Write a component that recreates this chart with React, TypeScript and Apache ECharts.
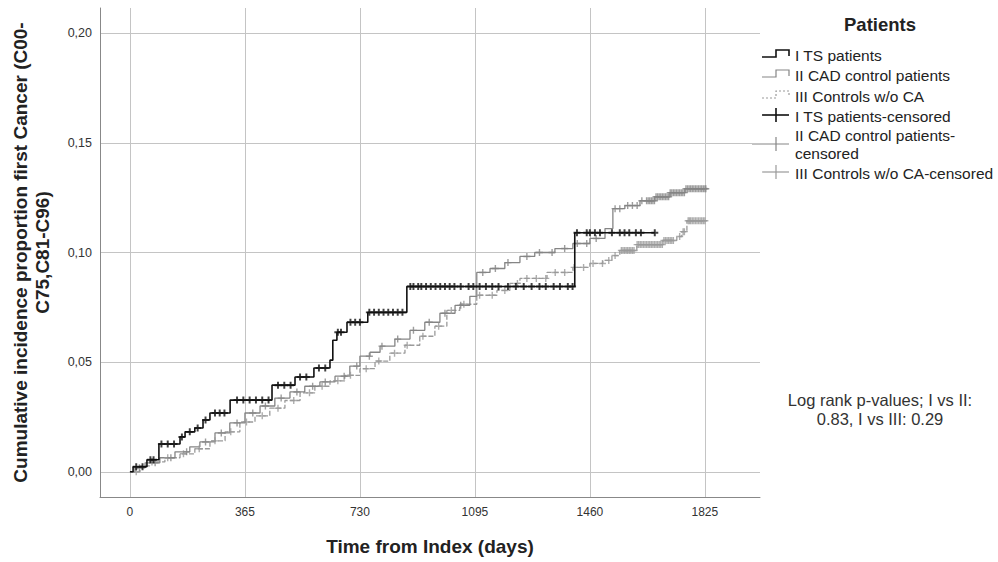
import React, { useEffect, useRef } from "react";
import * as echarts from "echarts";

// Tick values
const xTicks = [0, 365, 730, 1095, 1460, 1825];
const yTicks = [0, 0.05, 0.1, 0.15, 0.2];

// Step curves: [day, cumulative incidence from that day on]
const tsSteps: [number, number][] = [
  [0, 0], [10, 0.0023], [54, 0.0055], [92, 0.0127], [159, 0.0159], [175, 0.0182],
  [206, 0.02], [232, 0.0236], [254, 0.0268], [318, 0.0327], [451, 0.0395],
  [524, 0.0432], [584, 0.0473], [635, 0.0509], [644, 0.06], [657, 0.0636],
  [689, 0.0682], [755, 0.0727], [879, 0.0845], [1412, 0.109], [1666, 0.109],
];
const cadSteps: [number, number][] = [
  [0, 0], [16, 0.0018], [48, 0.0041], [95, 0.0064], [143, 0.0091], [190, 0.0114],
  [222, 0.0136], [270, 0.0177], [317, 0.0223], [365, 0.0268], [413, 0.03],
  [460, 0.0336], [508, 0.0364], [555, 0.039], [603, 0.041], [651, 0.0436],
  [698, 0.0482], [730, 0.0527], [762, 0.0545], [794, 0.0573], [841, 0.0605],
  [889, 0.0645], [936, 0.0682], [984, 0.0723], [1032, 0.0759], [1079, 0.08],
  [1101, 0.0909], [1143, 0.0927], [1190, 0.0954], [1238, 0.0982], [1285, 0.1],
  [1349, 0.1018], [1406, 0.1041], [1460, 0.1064], [1508, 0.1109], [1533, 0.12],
  [1571, 0.1214], [1619, 0.1236], [1666, 0.1254], [1714, 0.1273], [1762, 0.1291],
  [1831, 0.1295],
];
const ctrlSteps: [number, number][] = [
  [0, 0], [32, 0.0027], [63, 0.0045], [111, 0.0064], [159, 0.0082], [206, 0.0105],
  [254, 0.0141], [302, 0.0182], [349, 0.0227], [397, 0.0255], [444, 0.029],
  [492, 0.0325], [540, 0.036], [587, 0.039], [635, 0.0415], [682, 0.044],
  [730, 0.047], [778, 0.0505], [825, 0.0541], [873, 0.0577], [920, 0.0618],
  [968, 0.0664], [1006, 0.0736], [1047, 0.0764], [1101, 0.0805], [1165, 0.0827],
  [1206, 0.0859], [1238, 0.0882], [1324, 0.0909], [1406, 0.0932], [1460, 0.095],
  [1501, 0.0964], [1530, 0.0986], [1555, 0.1009], [1609, 0.1036], [1692, 0.1055],
  [1736, 0.1073], [1752, 0.1095], [1768, 0.1145], [1831, 0.1145],
];

// Censoring times (days)
const tsCensor = [
  20, 40, 65, 75, 100, 120, 140, 165, 190, 215, 240, 270, 285, 300, 340, 360, 380,
  400, 420, 440, 470, 490, 510, 540, 560, 600, 620, 660, 670, 700, 715, 730, 760,
  775, 790, 805, 820, 835, 850, 865, 890, 900, 915, 925, 940, 955, 970, 985, 1000,
  1015, 1030, 1050, 1075, 1090, 1110, 1130, 1150, 1170, 1200, 1225, 1250, 1275,
  1300, 1320, 1345, 1365, 1390, 1405, 1419, 1450, 1460, 1476, 1492, 1530, 1555,
  1570, 1585, 1606, 1622, 1666,
];
const cadCensor = [
  30, 80, 130, 180, 240, 290, 340, 390, 430, 480, 530, 580, 620, 680, 720, 760,
  800, 850, 900, 950, 1000, 1050, 1120, 1160, 1200, 1260, 1300, 1340, 1380, 1420,
  1450, 1480, 1540, 1555, 1580, 1595, 1610, 1625, 1640, 1645, 1650, 1655, 1660,
  1665, 1670, 1675, 1680, 1685, 1690, 1695, 1700, 1705, 1710, 1715, 1720, 1725,
  1730, 1735, 1740, 1745, 1750, 1755, 1760, 1765, 1770, 1775, 1780, 1785, 1790,
  1795, 1800, 1805, 1810, 1815, 1820, 1825, 1828,
];
const ctrlCensor = [
  20, 70, 120, 170, 220, 270, 320, 370, 420, 470, 520, 570, 610, 660, 700, 750,
  790, 840, 880, 930, 980, 1020, 1060, 1110, 1150, 1190, 1230, 1260, 1290, 1320,
  1350, 1380, 1410, 1440, 1470, 1500, 1520, 1540, 1560, 1565, 1570, 1575, 1580,
  1585, 1590, 1595, 1600, 1610, 1615, 1620, 1625, 1630, 1635, 1640, 1645, 1650,
  1655, 1660, 1665, 1670, 1675, 1680, 1685, 1690, 1695, 1700, 1705, 1710, 1715,
  1720, 1725, 1745, 1756, 1760, 1772, 1776, 1780, 1785, 1790, 1795, 1800, 1805,
  1810, 1815, 1820, 1825,
];

const seriesNames = ["I TS patients", "II CAD control patients", "III Controls w/o CA"];
const censorNames = [
  "I TS patients-censored",
  "II CAD control patients-\ncensored",
  "III Controls w/o CA-censored",
];
const legendTitle = "Patients";
const note = "Log rank p-values; I vs II:\n0.83, I vs III: 0.29";
const xTitle = "Time from Index (days)";
const yTitle = "Cumulative incidence proportion first Cancer (C00-\nC75,C81-C96)";

const FONT = "'Liberation Sans', Arial, sans-serif";
const PLUS = "path://M4,0H6V4H10V6H6V10H4V6H0V4H4Z";
const PLUS_BOLD = "path://M3.6,0H6.4V3.6H10V6.4H6.4V10H3.6V6.4H0V3.6H3.6Z";

function valueAt(steps: [number, number][], t: number) {
  let v = 0;
  for (const [x, y] of steps) if (x <= t) v = y;
  return v;
}

export default function App() {
  const ref = useRef<HTMLDivElement>(null);
  useEffect(() => {
    if (!ref.current) return;
    const chart = echarts.init(ref.current, undefined, { renderer: "svg" });
    const colors = ["#111111", "#858585", "#9a9a9a"];
    const stepsAll = [tsSteps, cadSteps, ctrlSteps];
    const censAll = [tsCensor, cadCensor, ctrlCensor];
    const series: any[] = [];
    [2, 1, 0].forEach((i) => {
      series.push({
        name: seriesNames[i],
        type: "line",
        step: "end",
        symbol: "none",
        data: stepsAll[i],
        lineStyle: {
          color: colors[i],
          width: i === 0 ? 1.6 : 1.3,
          type: i === 2 ? [5, 2] : "solid",
        },
        z: i === 0 ? 5 : 3,
      });
      series.push({
        name: censorNames[i],
        type: "scatter",
        symbol: i === 0 ? PLUS_BOLD : PLUS,
        symbolSize: 7,
        data: censAll[i].map((t) => [t, valueAt(stepsAll[i], t)]),
        itemStyle: { color: colors[i] },
        z: i === 0 ? 6 : 4,
      });
    });

    const lx = 762;
    const legendRows = [55, 75, 96];
    const graphics: any[] = [
      {
        type: "text",
        style: {
          text: legendTitle, x: 880, y: 24, textAlign: "center", textVerticalAlign: "middle",
          fontSize: 18.5, fontWeight: "bold", fontFamily: FONT, fill: "#222",
        },
      },
    ];
    legendRows.forEach((y, i) => {
      graphics.push({
        type: "polyline",
        shape: { points: [[lx, y + 2], [lx + 14, y + 2], [lx + 14, y - 5], [lx + 27, y - 5], [lx + 27, y + 1]] },
        style: {
          stroke: colors[i], lineWidth: i === 0 ? 1.6 : 1.2, fill: "none",
          lineDash: i === 2 ? [2, 2] : null,
        },
      });
      graphics.push({
        type: "text",
        style: {
          text: seriesNames[i], x: 795, y, textVerticalAlign: "middle",
          fontSize: 15.5, fontFamily: FONT, fill: "#222",
        },
      });
    });
    const censorRows = [
      { text: 116, line: 115 },
      { text: 144, line: 144 },
      { text: 173, line: 172 },
    ];
    censorRows.forEach((r, i) => {
      graphics.push({
        type: "line",
        shape: { x1: i === 1 ? 752 : lx, y1: r.line, x2: lx + 27, y2: r.line },
        style: { stroke: colors[i], lineWidth: i === 0 ? 1.6 : 1.2 },
      });
      graphics.push({
        type: "line",
        shape: { x1: lx + 14, y1: r.line - 7, x2: lx + 14, y2: r.line + 7 },
        style: { stroke: colors[i], lineWidth: i === 0 ? 1.6 : 1.2 },
      });
      graphics.push({
        type: "text",
        style: {
          text: censorNames[i], x: 795, y: r.text, textVerticalAlign: "middle",
          fontSize: 15.5, lineHeight: 18, fontFamily: FONT, fill: "#222",
        },
      });
    });
    graphics.push({
      type: "text",
      style: {
        text: note, x: 880, y: 409, textAlign: "center", textVerticalAlign: "middle",
        fontSize: 16.5, lineHeight: 19, fontFamily: FONT, fill: "#333",
      },
    });

    chart.setOption({
      animation: false,
      textStyle: { fontFamily: FONT },
      grid: { left: 100, top: 8, right: 238, bottom: 65, containLabel: false, outerBoundsMode: "none" },
      xAxis: {
        type: "value",
        min: -95,
        max: 2000,
        name: xTitle,
        nameLocation: "middle",
        nameGap: 40,
        nameTextStyle: { fontSize: 19, fontWeight: "bold", color: "#222", fontFamily: FONT },
        axisLine: { show: true, onZero: false, lineStyle: { color: "#888", width: 1 } },
        axisTick: { show: false, customValues: xTicks },
        axisLabel: {
          customValues: xTicks, fontSize: 12, color: "#333", margin: 9,
          formatter: (v: number) => String(v),
        },
        splitLine: { show: true, lineStyle: { color: "#c4c4c4", width: 1 } },
      },
      yAxis: {
        type: "value",
        min: -0.0115,
        max: 0.2115,
        name: yTitle,
        nameLocation: "middle",
        nameRotate: 90,
        nameGap: 47,
        nameTextStyle: { fontSize: 19, fontWeight: "bold", color: "#222", lineHeight: 22, fontFamily: FONT },
        axisLine: { show: true, onZero: false, lineStyle: { color: "#888", width: 1 } },
        axisTick: { show: false, customValues: yTicks },
        axisLabel: {
          customValues: yTicks,
          fontSize: 12.5,
          color: "#333",
          margin: 8,
          formatter: (v: number) => v.toFixed(2).replace(".", ","),
        },
        splitLine: { show: true, lineStyle: { color: "#c4c4c4", width: 1 } },
      },
      series,
      graphic: graphics,
    });
    return () => chart.dispose();
  }, []);
  return (
    <div
      ref={ref}
      style={{ position: "fixed", left: 0, top: 0, width: 998, height: 562, background: "#fff" }}
    />
  );
}
